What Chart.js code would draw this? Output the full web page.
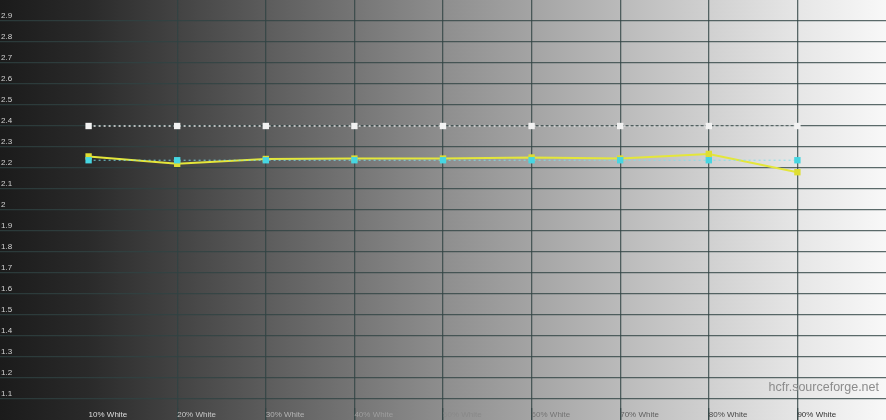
<!DOCTYPE html>
<html>
<head>
<meta charset="utf-8">
<script src="https://cdn.jsdelivr.net/npm/chart.js@4.4.1/dist/chart.umd.min.js"></script>
<style>
  html, body { margin: 0; padding: 0; background: #1c1c1c; }
  #wrap { width: 886px; height: 420px; }
</style>
</head>
<body>
<div id="wrap"><canvas id="gammaChart"></canvas></div>
<script>
// grey levels measured (percent of white)
const levels = [10, 20, 30, 40, 50, 60, 70, 80, 90];
const categories = ['10% White', '20% White', '30% White', '40% White', '50% White',
  '60% White', '70% White', '80% White', '90% White'];

// gamma readings
const measuredGamma = [2.255, 2.22, 2.243, 2.245, 2.245, 2.25, 2.245, 2.267, 2.18];
const referenceGamma = [2.237, 2.237, 2.237, 2.237, 2.237, 2.237, 2.237, 2.237, 2.237];
const targetGamma = [2.4, 2.4, 2.4, 2.4, 2.4, 2.4, 2.4, 2.4, 2.4];

// y axis range
const yMin = 1.0;
const yMax = 3.0;
const yStep = 0.1;

function toPoints(values) {
  return levels.map((lv, i) => ({ x: lv, y: values[i] }));
}

//Paints the grey ramp behind the plot
const rampBackground = {
  id: 'rampBackground',
  beforeDraw(chart) {
    const { ctx, chartArea: a } = chart;
    const g = ctx.createLinearGradient(a.left, 0, a.right, 0);
    g.addColorStop(0, '#1b1b1b');
    g.addColorStop(0.1, '#2a2a2a');
    g.addColorStop(0.5, '#8e8e8e');
    g.addColorStop(0.9, '#e6e6e6');
    g.addColorStop(1, '#f8f8f8');
    ctx.save();
    ctx.fillStyle = g;
    ctx.fillRect(0, 0, chart.width, chart.height);
    ctx.restore();
  }
};

//Watermark in the lower right corner
const watermark = {
  id: 'watermark',
  afterDraw(chart) {
    const { ctx, chartArea: a } = chart;
    ctx.save();
    ctx.font = '12.5px "Liberation Sans", Arial, sans-serif';
    ctx.fillStyle = '#8c8c8c';
    ctx.textAlign = 'right';
    ctx.textBaseline = 'middle';
    ctx.fillText('hcfr.sourceforge.net', a.right - 7, 388);
    ctx.restore();
  }
};

//Axes sit on top of the plot, so they take no room
function noRoom(s) {
  if (s.isHorizontal()) s.height = 0; else s.width = 0;
  s.paddingTop = 0;
  s.paddingBottom = 0;
  s.paddingLeft = 0;
  s.paddingRight = 0;
}

const gridColor = 'rgba(48, 66, 66, 0.78)';

let gammaChart = new Chart(document.getElementById('gammaChart').getContext('2d'), {
  type: 'line',
  data: {
    datasets: [{
      label: 'Reference',
      data: toPoints(referenceGamma),
      borderColor: 'rgba(120, 225, 235, 0.9)',
      borderWidth: 1,
      borderDash: [2, 3],
      pointStyle: 'rect',
      pointRadius: 4.5,
      pointBackgroundColor: '#46d6e2',
      pointBorderColor: '#46d6e2',
      pointBorderWidth: 0,
      order: 0
    }, {
      label: 'Measured',
      data: toPoints(measuredGamma),
      borderColor: '#e4e63a',
      borderWidth: 2,
      pointStyle: 'rect',
      pointRadius: 4.5,
      pointBackgroundColor: '#dede32',
      pointBorderColor: '#dede32',
      pointBorderWidth: 0,
      order: 1
    }, {
      label: 'Target',
      data: toPoints(targetGamma),
      borderColor: '#e4e4e4',
      borderWidth: 1.5,
      borderDash: [2, 3],
      pointStyle: 'rect',
      pointRadius: 4.5,
      pointBackgroundColor: '#f2f2f2',
      pointBorderColor: '#f2f2f2',
      pointBorderWidth: 0,
      order: 2
    }]
  },
  plugins: [rampBackground, watermark],
  options: {
    responsive: true,
    maintainAspectRatio: false,
    animation: false,
    layout: { padding: 0, autoPadding: false },
    plugins: {
      legend: { display: false },
      tooltip: { enabled: false }
    },
    scales: {
      x: {
        type: 'linear',
        min: 0,
        max: 100,
        border: { display: false },
        grid: {
          drawTicks: true,
          tickLength: -12,
          lineWidth: 1.3,
          color: (c) => (c.tick && c.tick.value > 10 ? gridColor : 'rgba(0,0,0,0)')
        },
        afterFit: noRoom,
        ticks: {
          stepSize: 10,
          autoSkip: false,
          maxRotation: 0,
          mirror: true,
          align: 'start',
          padding: 0,
          font: { size: 8, family: '"Liberation Sans", Arial, sans-serif', lineHeight: 1.2 },
          color: (c) => {
            const t = Math.min(Math.max((c.tick.value - 10) / 80, 0), 1);
            const g = Math.round(222 - t * 170);
            return 'rgb(' + g + ',' + g + ',' + g + ')';
          },
          callback: (v) => {
            const i = levels.indexOf(Math.round(v));
            return i >= 0 ? categories[i] : null;
          }
        }
      },
      y: {
        min: yMin,
        max: yMax,
        border: { display: false },
        grid: {
          drawTicks: false,
          lineWidth: 1.3,
          color: gridColor
        },
        afterFit: noRoom,
        ticks: {
          stepSize: yStep,
          autoSkip: false,
          mirror: true,
          padding: 1,
          color: '#d2d2d2',
          font: { size: 8, family: '"Liberation Sans", Arial, sans-serif', lineHeight: 1.25 },
          callback: (v) => {
            const r = Math.round(v * 10) / 10;
            if (r <= yMin || r >= yMax) return null;
            return [String(r), ''];
          }
        }
      }
    }
  }
});
</script>
</body>
</html>
